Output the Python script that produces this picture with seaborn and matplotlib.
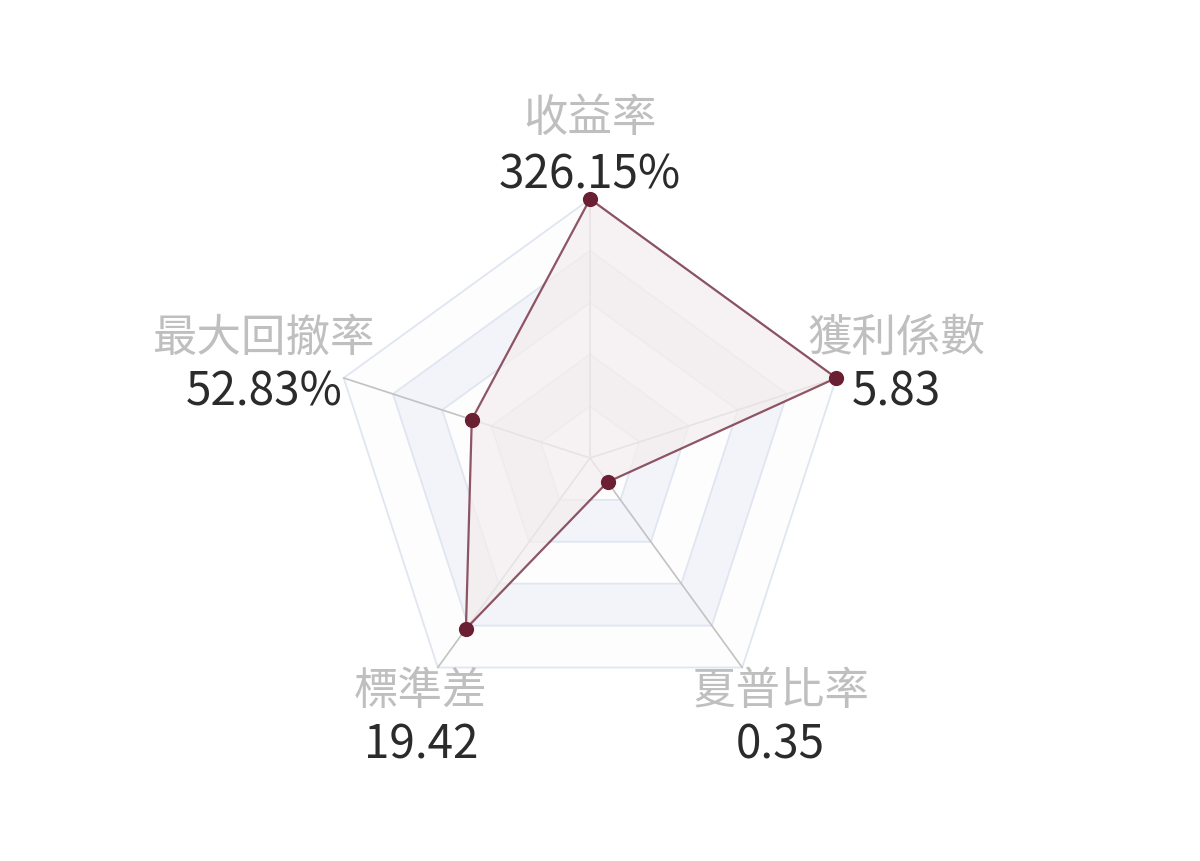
import numpy as np
import pandas as pd
import matplotlib
matplotlib.use("Agg")
import matplotlib.pyplot as plt
import seaborn as sns

# 指標資料
categories = ["收益率", "獲利係數", "夏普比率", "標準差", "最大回撤率"]
value_labels = ["326.15%", "5.83", "0.35", "19.42", "52.83%"]
scaled_values = [1.0, 1.0, 0.115, 0.815, 0.48]

sns.set_theme(style="white")
plt.rcParams["font.family"] = ["Noto Sans CJK TC", "DejaVu Sans"]

line_color = "#6b1f33"
fill_color = "#f4eeef"
split_line = "#e0e6f1"
band_colors = ["#fdfdfd", "#f2f4fa"]
axis_color = "#c2c2c2"

n = len(categories)
angles = np.deg2rad(90 - np.arange(n) * 360 / n)

fig = plt.figure(figsize=(12, 8.62), dpi=100)
ax = fig.add_axes([0, 0, 1, 1])
ax.set_xlim(-590 / 259, 610 / 259)
ax.set_ylim(-403 / 259, 459 / 259)
ax.axis("off")

# 背景網格 (5 層, 顏色交替)
levels = np.linspace(0.2, 1.0, 5)
for i in range(len(levels) - 1, -1, -1):
    r = levels[i]
    ax.fill(r * np.cos(angles), r * np.sin(angles), color=band_colors[i % 2], zorder=1, lw=0)
for r in levels:
    xs = np.append(r * np.cos(angles), r * np.cos(angles[0]))
    ys = np.append(r * np.sin(angles), r * np.sin(angles[0]))
    ax.plot(xs, ys, color=split_line, lw=1.3, zorder=2)

# 軸線
for a in angles:
    ax.plot([0, np.cos(a)], [0, np.sin(a)], color=axis_color, lw=1.2, zorder=3)

# 資料多邊形
df = pd.DataFrame({
    "x": np.array(scaled_values) * np.cos(angles),
    "y": np.array(scaled_values) * np.sin(angles),
    "cat": categories,
})
closed = pd.concat([df, df.iloc[[0]]], ignore_index=True)
ax.fill(df["x"], df["y"], color=fill_color, alpha=0.75, lw=0, zorder=4)

sns.lineplot(data=closed, x="x", y="y", sort=False, estimator=None, errorbar=None,
             color=line_color, lw=1.6, alpha=0.75, ax=ax, zorder=5)
sns.scatterplot(data=df, x="x", y="y", color=line_color, s=120, edgecolor=line_color,
                linewidth=0, ax=ax, zorder=6, legend=False)

# 標籤
name_offsets = [(0, 82), (60, 41), (38, -22), (-17, -22), (-80, 41)]
value_offsets = [(0, 25), (60, -13), (38, -77), (-17, -77), (-80, -13)]
for i, a in enumerate(angles):
    vx, vy = np.cos(a), np.sin(a)
    ax.annotate(categories[i], (vx, vy), xytext=name_offsets[i], textcoords="offset pixels",
                ha="center", va="center", fontsize=32, color="#bfbfbf", zorder=7)
    ax.annotate(value_labels[i], (vx, vy), xytext=value_offsets[i], textcoords="offset pixels",
                ha="center", va="center", fontsize=33, color="#2b2b2b", zorder=7)

ax.set_xlabel("")
ax.set_ylabel("")
fig.savefig("out.png", dpi=100)
